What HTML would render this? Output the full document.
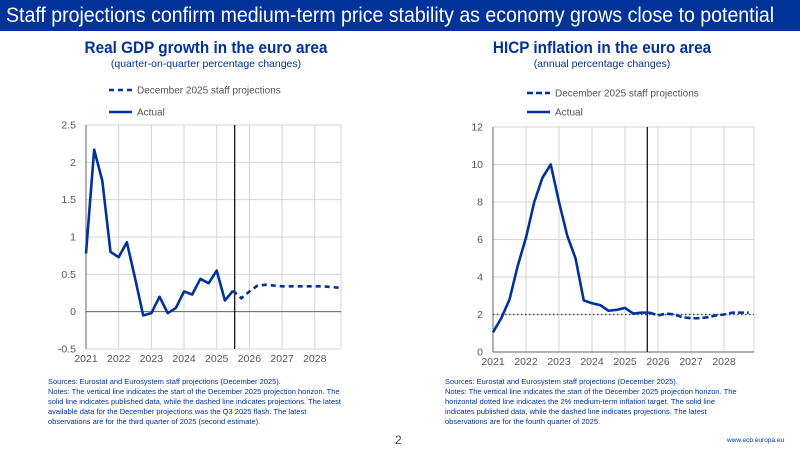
<!DOCTYPE html>
<html><head><meta charset="utf-8"><style>
body{margin:0;width:800px;height:450px;overflow:hidden;background:#fff;font-family:"Liberation Sans",sans-serif;position:relative}
.hdr{position:absolute;left:0;top:0;width:800px;height:31px;background:#003299;color:#fff;font-size:21px;line-height:31px;box-sizing:border-box;white-space:nowrap;overflow:hidden}
.hdr span{display:inline-block;transform:scaleX(0.93);transform-origin:left center;margin-left:6px}
.t{position:absolute;color:#003299;text-align:center;white-space:nowrap}
.note{position:absolute;font-size:7.5px;line-height:10px;color:#003299}
svg{position:absolute;left:0;top:0}
</style></head><body>
<div class="hdr"><span>Staff projections confirm medium-term price stability as economy grows close to potential</span></div>
<div class="t" style="left:51px;top:38px;width:310px;font-size:17px;font-weight:bold;transform:scaleX(0.9)">Real GDP growth in the euro area</div>
<div class="t" style="left:51px;top:58px;width:310px;font-size:10.5px">(quarter-on-quarter percentage changes)</div>
<div class="t" style="left:447px;top:38px;width:310px;font-size:17px;font-weight:bold;transform:scaleX(0.9)">HICP inflation in the euro area</div>
<div class="t" style="left:447px;top:58px;width:310px;font-size:10.5px">(annual percentage changes)</div>
<div class="note" style="left:48px;top:377px;width:300px">Sources: Eurostat and Eurosystem staff projections (December 2025).<br>Notes: The vertical line indicates the start of the December 2025 projection horizon. The solid line indicates published data, while the dashed line indicates projections. The latest available data for the December projections was the Q3 2025 flash. The latest observations are for the third quarter of 2025 (second estimate).</div>
<div class="note" style="left:445px;top:377px;width:300px">Sources: Eurostat and Eurosystem staff projections (December 2025).<br>Notes: The vertical line indicates the start of the December 2025 projection horizon. The horizontal dotted line indicates the 2% medium-term inflation target. The solid line indicates published data, while the dashed line indicates projections. The latest observations are for the fourth quarter of 2025.</div>
<div style="position:absolute;left:395px;top:433px;font-size:12px;color:#444">2</div>
<div style="position:absolute;left:727px;top:437px;font-size:6.5px;color:#003299">www.ecb.europa.eu</div>
<svg id="s" width="800" height="450" xmlns="http://www.w3.org/2000/svg"></svg>
<script>
const years=["2021","2022","2023","2024","2025","2026","2027","2028"];
const gdpTicks=[-0.5,0,0.5,1,1.5,2,2.5];
const gdpActual=[0.78,2.17,1.75,0.8,0.73,0.93,0.45,-0.05,-0.02,0.2,-0.02,0.05,0.27,0.23,0.44,0.38,0.55,0.15,0.28];
const gdpProj=[0.28,0.18,0.27,0.35,0.36,0.35,0.34,0.34,0.34,0.34,0.34,0.34,0.33,0.32];
const gdpProjStart=18;
const gdpVline=18.2;
const hicpTicks=[0,2,4,6,8,10,12];
const hicpActual=[1.05,1.8,2.8,4.6,6.1,8.0,9.3,10.0,8.0,6.2,5.0,2.75,2.6,2.5,2.2,2.25,2.35,2.05,2.1,2.1];
const hicpProj=[2.1,1.95,2.05,2.0,1.85,1.8,1.8,1.85,1.95,2.0,2.1,2.1,2.1];
const hicpProjStart=19;
const hicpVline=18.7;
const target=2;

const s=document.getElementById('s');
const NS='http://www.w3.org/2000/svg';
function el(t,a,p){const e=document.createElementNS(NS,t);for(const k in a)e.setAttribute(k,a[k]);(p||s).appendChild(e);return e;}

function chart(o){
  const g=el('g',{});
  
  
  const ymin=o.ticks[0],ymax=o.ticks[o.ticks.length-1];
  const X=i=>o.x0+i*o.q;
  const Y=v=>o.yb-(v-ymin)/(ymax-ymin)*(o.yb-o.yt);
  o.ticks.forEach(v=>{
    const l=el('line',{x1:o.x0,x2:o.x1,y1:Y(v),y2:Y(v),stroke:'#d4d4d4','stroke-width':1},g);
    
    
    const t=el('text',{x:o.x0-10,y:Y(v)+3.5,'text-anchor':'end','font-size':10.5,fill:'#555'},g);
    t.textContent=v;
    
    
  });
  years.forEach((yr,i)=>{
    const x=X(i*4);
    if(i>0){const l=el('line',{x1:x,x2:x,y1:o.yt,y2:o.yb,stroke:'#d4d4d4','stroke-width':1},g);
    
    }
    const t=el('text',{x:x,y:o.yb+13,'text-anchor':'middle','font-size':10.5,fill:'#555'},g);
    t.textContent=yr;
    
    
  });
  el('line',{x1:o.x1,x2:o.x1,y1:o.yt,y2:o.yb,stroke:'#d4d4d4'},g);
  const ya=el('line',{x1:o.x0,x2:o.x0,y1:o.yt,y2:o.yb,stroke:'#666'},g);
  
  
  const zx=el('line',{x1:o.x0,x2:o.x1,y1:Y(o.zero),y2:Y(o.zero),stroke:'#666'},g);
  
  
  if(o.target!==undefined){
    const t=el('line',{x1:o.x0,x2:o.x1,y1:Y(o.target),y2:Y(o.target),stroke:'#555','stroke-width':1.5,'stroke-dasharray':'1.5 2.5'},g);
    
    
  }
  const vl=el('line',{x1:X(o.vline),x2:X(o.vline),y1:o.yt,y2:o.yb,stroke:'#000','stroke-width':1.2},g);
  
  
  const a=el('polyline',{points:o.actual.map((v,i)=>X(i)+','+Y(v)).join(' '),fill:'none',stroke:'#003299','stroke-width':2.6,'stroke-linejoin':'round'},g);
  
  
  const p=el('polyline',{points:o.proj.map((v,i)=>X(i+o.ps)+','+Y(v)).join(' '),fill:'none',stroke:'#003299','stroke-width':2.6,'stroke-dasharray':o.dash},g);
  
  
  const lg=el('g',{},g);
  
  
  el('line',{x1:o.lx,x2:o.lx+23,y1:o.ly1,y2:o.ly1,stroke:'#003299','stroke-width':2.6,'stroke-dasharray':o.dash},lg);
  const t1=el('text',{x:o.lx+28,y:o.ly1+3.5,'font-size':10,fill:'#555'},lg);t1.textContent='December 2025 staff projections';
  el('line',{x1:o.lx,x2:o.lx+23,y1:o.ly2,y2:o.ly2,stroke:'#003299','stroke-width':2.6},lg);
  const t2=el('text',{x:o.lx+28,y:o.ly2+3.5,'font-size':10,fill:'#555'},lg);t2.textContent='Actual';
}
chart({name:'gdp-chart',x0:86,x1:341,q:8.17,yt:125,yb:349,ticks:gdpTicks,zero:0,actual:gdpActual,proj:gdpProj,ps:gdpProjStart,vline:gdpVline,dash:'5 4',lx:109,ly1:90,ly2:112});
chart({name:'hicp-chart',x0:493,x1:754,q:8.25,yt:127,yb:352,ticks:hicpTicks,zero:0,actual:hicpActual,proj:hicpProj,ps:hicpProjStart,vline:hicpVline,dash:'6 3',target:target,lx:527,ly1:93,ly2:112});
</script>
</body></html>
